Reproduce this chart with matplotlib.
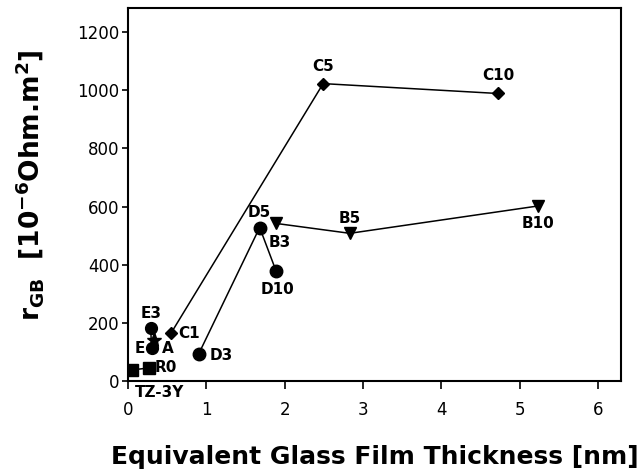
import matplotlib
matplotlib.use('Agg')
import matplotlib.pyplot as plt

# series: glass film thickness [nm] vs r_GB [1e-6 Ohm.m2]
c_x = [0.55, 2.49, 4.72]
c_y = [165, 1023, 989]
c_names = ['C1', 'C5', 'C10']

d_x = [0.90, 1.68, 1.89]
d_y = [92, 528, 378]
d_names = ['D3', 'D5', 'D10']

b_x = [1.89, 2.83, 5.23]
b_y = [542, 508, 602]
b_names = ['B3', 'B5', 'B10']

e_x = [0.29, 0.30]
e_y = [184, 112]
e_names = ['E3', 'E']

a_x = [0.33]
a_y = [140]

r_x = [0.05, 0.27]
r_y = [38, 45]
r_names = ['TZ-3Y', 'R0']

x_ticks = [0, 1, 2, 3, 4, 5, 6]
y_ticks = [0, 200, 400, 600, 800, 1000, 1200]

plt.rcParams['font.family'] = 'DejaVu Sans'
plt.rcParams['mathtext.default'] = 'bf'

fig = plt.figure(figsize=(6.39, 4.72), dpi=100)
ax = fig.add_axes([0.2003, 0.1928, 0.7715, 0.7902])

lw = 1.1
ax.plot(c_x, c_y, '-D', color='black', lw=lw, ms=6.5)
ax.plot(d_x, d_y, '-o', color='black', lw=lw, ms=9)
ax.plot(b_x, b_y, '-v', color='black', lw=lw, ms=8)
ax.plot(e_x, e_y, '-o', color='black', lw=lw, ms=8.5)
ax.plot(a_x, a_y, '*', color='black', ms=11)
ax.plot(r_x, r_y, '-s', color='black', lw=lw, ms=9)

# label offsets in points (dx, dy, ha, va)
offsets = {
    'C1': (5, 0, 'left', 'center'),
    'C5': (0, 12, 'center', 'center'),
    'C10': (0, 13, 'center', 'center'),
    'D3': (8, -1, 'left', 'center'),
    'D5': (0, 11, 'center', 'center'),
    'D10': (1, -13, 'center', 'center'),
    'B3': (2.5, -13.5, 'center', 'center'),
    'B5': (0, 11, 'center', 'center'),
    'B10': (0, -12.5, 'center', 'center'),
    'E3': (0, 10, 'center', 'center'),
    'E': (-5, 0, 'right', 'center'),
    'TZ-3Y': (2, -11, 'left', 'top'),
    'R0': (4, 0, 'left', 'center'),
}
for xs, ys, names in [(c_x, c_y, c_names), (d_x, d_y, d_names), (b_x, b_y, b_names),
                      (e_x, e_y, e_names), (r_x, r_y, r_names)]:
    for x, y, n in zip(xs, ys, names):
        dx, dy, ha, va = offsets[n]
        ax.annotate(n, (x, y), xytext=(dx, dy), textcoords='offset points',
                    ha=ha, va=va, fontsize=11, fontweight='bold')
ax.annotate('A', (a_x[0], a_y[0]), xytext=(6, -6), textcoords='offset points',
            ha='left', va='center', fontsize=11, fontweight='bold')

ax.set_xlim(0, 6.29)
ax.set_ylim(0, 1283)
ax.set_xticks(x_ticks)
ax.set_yticks(y_ticks)
ax.tick_params(axis='x', direction='out', length=5.5, width=1.2, pad=9, labelsize=12)
ax.tick_params(axis='y', direction='out', length=4, width=1.2, pad=2, labelsize=12)
for s in ax.spines.values():
    s.set_linewidth(1.5)

fig.text(0.587, 1 - 457 / 472, 'Equivalent Glass Film Thickness [nm]',
         ha='center', va='center', fontsize=18, fontweight='bold')
fig.text(30 / 639, 1 - 185 / 472, r'r$_{GB}$  [10$^{-6}$Ohm.m$^{2}$]',
         rotation=90, ha='center', va='center', fontsize=19, fontweight='bold')

fig.savefig('out.png', dpi=100)
